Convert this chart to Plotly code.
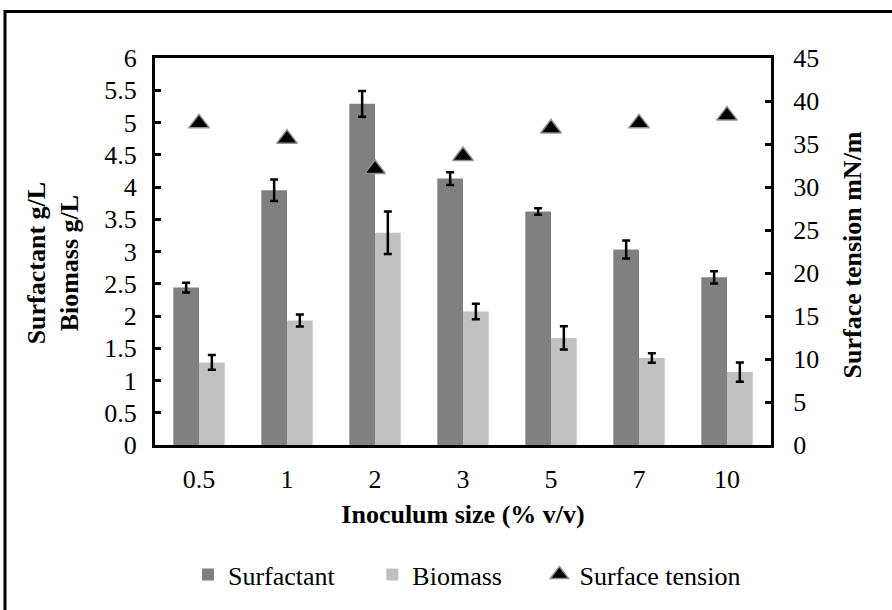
import plotly.graph_objects as go

categories = ["0.5", "1", "2", "3", "5", "7", "10"]
surfactant = [2.44, 3.95, 5.29, 4.13, 3.62, 3.03, 2.60]
surfactant_err = [0.077, 0.168, 0.20, 0.10, 0.05, 0.14, 0.095]
biomass = [1.28, 1.93, 3.29, 2.07, 1.66, 1.35, 1.13]
biomass_err = [0.115, 0.094, 0.33, 0.12, 0.18, 0.074, 0.15]
tension = [37.4, 35.6, 32.1, 33.6, 36.8, 37.4, 38.3]
tension_err = [0.3, 0.3, 0.3, 0.3, 0.3, 0.3, 0.3]

FONT = "Liberation Serif"
FS = 26
NB = "\u00a0"

fig = go.Figure()
fig.add_trace(go.Bar(
    x=categories, y=surfactant, name="Surfactant" + NB * 5,
    marker=dict(color="#808080", line=dict(width=0)),
    error_y=dict(type="data", array=surfactant_err, color="black", thickness=2.5, width=4),
))
fig.add_trace(go.Bar(
    x=categories, y=biomass, name="Biomass" + NB * 5,
    marker=dict(color="#C0C0C0", line=dict(width=0)),
    error_y=dict(type="data", array=biomass_err, color="black", thickness=2.5, width=4),
))
fig.add_trace(go.Scatter(
    x=categories, y=tension, name="Surface tension", yaxis="y2", mode="markers",
    marker=dict(symbol="triangle-up", size=18, color="black", line=dict(color="#909090", width=1.5)),
    error_y=dict(type="data", array=tension_err, color="black", thickness=1.5, width=3),
))

fig.update_layout(
    width=892, height=610,
    margin=dict(l=155, r=121, t=58, b=160),
    paper_bgcolor="white", plot_bgcolor="white",
    font=dict(family=FONT, size=FS, color="black"),
    barmode="group", bargap=0.416, bargroupgap=0,
    showlegend=True,
    legend=dict(orientation="h", x=(188 - 155) / 616, xanchor="left", y=-0.335, yanchor="middle",
                font=dict(family=FONT, size=FS), itemwidth=30,
                traceorder="normal", tracegroupgap=0),
    xaxis=dict(
        type="category", showline=True, linecolor="black", linewidth=3, mirror=True,
        ticks="", ticklabelstandoff=9,
        tickfont=dict(family=FONT, size=FS),
        title=dict(text="<b>Inoculum size (% v/v)</b>", font=dict(family=FONT, size=FS), standoff=12),
        showgrid=False, zeroline=False,
    ),
    yaxis=dict(
        range=[0, 6], dtick=0.5, showline=True, linecolor="black", linewidth=3,
        ticks="inside", ticklen=6, tickwidth=3, tickcolor="black", ticklabelstandoff=10,
        tickfont=dict(family=FONT, size=FS), showgrid=False, zeroline=False,
    ),
    yaxis2=dict(
        range=[0, 45], dtick=5, overlaying="y", side="right", showline=True, linecolor="black", linewidth=3,
        ticks="inside", ticklen=6, tickwidth=3, tickcolor="black", ticklabelstandoff=14,
        tickfont=dict(family=FONT, size=FS), showgrid=False, zeroline=False,
    ),
)

# axis titles as annotations for exact placement
fig.add_annotation(text="<b>Surfactant g/L<br>Biomass g/L</b>", xref="paper", yref="paper",
                   x=(53 - 155) / 616, y=(450 - 266) / 392, xanchor="center", yanchor="middle",
                   textangle=-90, showarrow=False, font=dict(family=FONT, size=FS), align="center")
fig.add_annotation(text="<b>Surface tension mN/m</b>", xref="paper", yref="paper",
                   x=(852 - 155) / 616, y=(450 - 258) / 392, xanchor="center", yanchor="middle",
                   textangle=-90, showarrow=False, font=dict(family=FONT, size=FS))

fig.add_shape(type="rect", xref="paper", yref="paper",
              x0=(5 - 155) / 616, x1=(900 - 155) / 616,
              y0=(450 - 620) / 392, y1=(450 - 11) / 392,
              line=dict(color="black", width=3), fillcolor="rgba(0,0,0,0)", layer="below")

fig.write_html("out.html")
